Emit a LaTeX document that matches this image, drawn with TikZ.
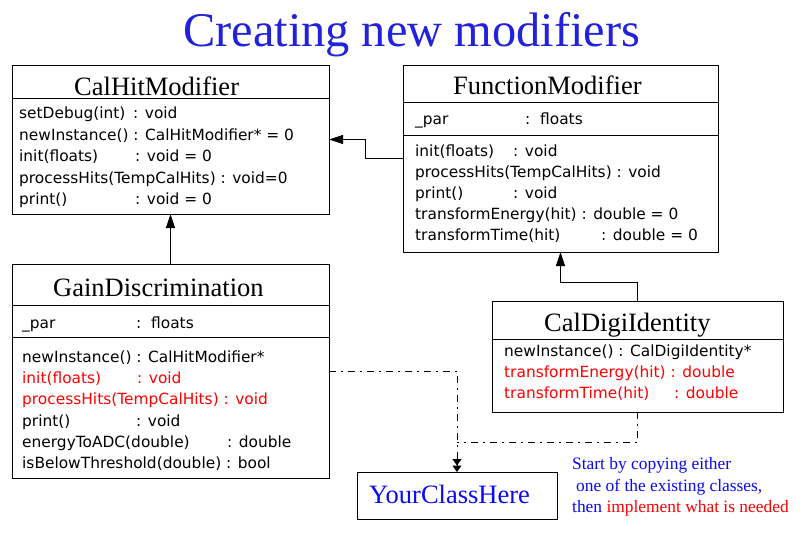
\documentclass[tikz,border=0pt]{standalone}
\usepackage{fontspec}
\setmainfont{Liberation Serif}
\newfontfamily\rowfont{DejaVu Sans}
\usetikzlibrary{arrows.meta}
\definecolor{titleblue}{RGB}{34,34,221}
\definecolor{noteblue}{RGB}{10,10,245}
\definecolor{impred}{RGB}{255,0,0}
\newcommand{\umlcol}[3]{\makebox[#1pt][l]{#2}#3}
\begin{document}
\begin{tikzpicture}[x=1pt,y=-1pt,
 classbox/.style={draw, line width=1pt, anchor=north west, inner sep=0pt, outer sep=0pt},
 ctitle/.style={anchor=base west, inner sep=0pt, font=\fontsize{26.5}{30}\selectfont},
 crow/.style={anchor=base west, inner sep=0pt, font=\rowfont\fontsize{15.4}{18}\selectfont},
 hot/.style={text=impred},
 sepline/.style={line width=1pt},
 inh/.style={line width=1pt, -{Triangle[length=14pt,width=9pt]}},
 depline/.style={line width=1pt, dash pattern=on 7pt off 5pt on 2pt off 5pt},
 dep/.style={depline, -{Triangle[length=6.5pt,width=9pt] Triangle[length=6.5pt,width=9pt]}},
 note/.style={anchor=base west, inner sep=0pt, font=\fontsize{17.4}{20}\selectfont}]
\useasboundingbox[fill=white] (0,0) rectangle (804,533);

\node[anchor=base west, inner sep=0pt, text=titleblue, font=\fontsize{48.4}{56}\selectfont] (title) at (183,46) {Creating new modifiers};

% CalHitModifier
\node[classbox, minimum width=317pt, minimum height=149pt] (chm) at (12,65) {};
\draw[sepline] (chm.west |- 0,98) -- (chm.east |- 0,98);
\node[ctitle] (chmt) at (74,95) {CalHitModifier};
\node[crow] (chm1) at (19,118) {\umlcol{114}{setDebug(int)}{: void}};
\node[crow] (chm2) at (19,140) {newInstance() : CalHitModifier* = 0};
\node[crow] (chm3) at (19,161) {\umlcol{116}{init(floats)}{: void = 0}};
\node[crow] (chm4) at (19,183) {processHits(TempCalHits) : void=0};
\node[crow] (chm5) at (19,204) {\umlcol{116}{print()}{: void = 0}};

% FunctionModifier
\node[classbox, minimum width=315pt, minimum height=187pt] (fm) at (403,65) {};
\draw[sepline] (fm.west |- 0,102) -- (fm.east |- 0,102);
\draw[sepline] (fm.west |- 0,135) -- (fm.east |- 0,135);
\node[ctitle] (fmt) at (453,94) {FunctionModifier};
\node[crow] (fm0) at (415,124) {\umlcol{110}{\_par}{:\ \ floats}};
\node[crow] (fm1) at (415,156) {\umlcol{98}{init(floats)}{: void}};
\node[crow] (fm2) at (415,177) {processHits(TempCalHits) : void};
\node[crow] (fm3) at (415,198) {\umlcol{98}{print()}{: void}};
\node[crow] (fm4) at (415,219) {transformEnergy(hit) : double = 0};
\node[crow] (fm5) at (415,240) {\umlcol{186}{transformTime(hit)}{: double = 0}};

% GainDiscrimination
\node[classbox, minimum width=317pt, minimum height=214pt] (gd) at (12,264) {};
\draw[sepline] (gd.west |- 0,305) -- (gd.east |- 0,305);
\draw[sepline] (gd.west |- 0,337) -- (gd.east |- 0,337);
\node[ctitle] (gdt) at (53,296) {GainDiscrimination};
\node[crow] (gd0) at (22,328) {\umlcol{114}{\_par}{:\ \ floats}};
\node[crow] (gd1) at (22,362) {newInstance() : CalHitModifier*};
\node[crow, hot] (gd2) at (22,383) {\umlcol{115}{init(floats)}{: void}};
\node[crow, hot] (gd3) at (22,404) {processHits(TempCalHits) : void};
\node[crow] (gd4) at (22,426) {\umlcol{114}{print()}{: void}};
\node[crow] (gd5) at (22,447) {\umlcol{205}{energyToADC(double)}{: double}};
\node[crow] (gd6) at (22,468) {isBelowThreshold(double) : bool};

% CalDigiIdentity
\node[classbox, minimum width=291pt, minimum height=111pt] (cdi) at (492,301) {};
\draw[sepline] (cdi.west |- 0,339) -- (cdi.east |- 0,339);
\node[ctitle] (cdit) at (544,331) {CalDigiIdentity};
\node[crow] (cdi1) at (504,356) {newInstance() : CalDigiIdentity*};
\node[crow, hot] (cdi2) at (504,377) {transformEnergy(hit) : double};
\node[crow, hot] (cdi3) at (504,398) {\umlcol{170}{transformTime(hit)}{: double}};

% YourClassHere
\node[classbox, minimum width=200pt, minimum height=47pt] (ych) at (357,472) {};
\node[ctitle, text=noteblue] (ycht) at (369,503) {YourClassHere};

% note
\node[note, text=noteblue] (n1) at (572,469) {Start by copying either};
\node[note, text=noteblue] (n2) at (576,491) {one of the existing classes,};
\node[note, text=noteblue] (n3) at (572,512) {then \textcolor{impred}{implement what is needed}};

% connectors
\draw[inh] (fm.west) -- ++(-38,0) |- (chm.east);
\draw[inh] (gd.north) -- (chm.south);
\draw[inh] (cdi.north) -- ++(0,-19) -| (fm.south);
\coordinate (jn) at (ych.north |- 0,442);
\draw[dep] (gd.east) -| (ych.north);
\draw[depline] (cdi.south) |- (jn);
\end{tikzpicture}
\end{document}
